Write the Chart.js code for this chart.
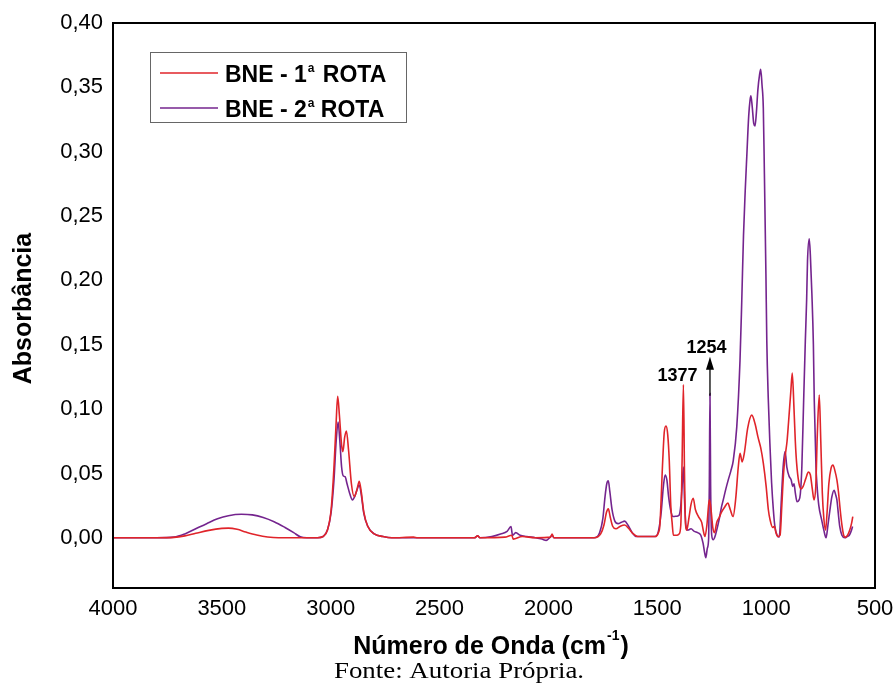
<!DOCTYPE html>
<html><head><meta charset="utf-8">
<script src="https://cdn.jsdelivr.net/npm/chart.js@4/dist/chart.umd.min.js"></script>
<style>html,body{margin:0;padding:0;background:#fff}canvas{display:block}</style>
</head><body>
<canvas id="c" width="896" height="694"></canvas>
<script>
// ---- data ----
const seriesLabels = ['BNE - 1ª ROTA', 'BNE - 2ª ROTA'];
const xTitle = 'Número de Onda (cm';
const xTitleSup = '-1';
const yTitle = 'Absorbância';
const caption = 'Fonte: Autoria Própria.';
const annotLabels = ['1377', '1254'];
const annotWn = [1380, 1258];
const annotAbs = [0.119, 0.112];

const redWn = [4000,3800,3720,3670,3620,3560,3500,3470,3430,3390,3340,3290,3240,3060,3035,3015,2998,2985,2975,2968,2960,2950,2944,2936,2928,2918,2905,2892,2880,2869,2860,2848,2830,2800,2760,2720,2620,2600,2340,2325,2315,2200,2168,2162,2120,2060,1990,1983,1975,1790,1760,1745,1733,1725,1716,1705,1690,1670,1650,1630,1610,1590,1510,1495,1488,1475,1468,1460,1452,1445,1438,1432,1426,1410,1400,1392,1386,1380,1375,1370,1365,1355,1345,1335,1325,1311,1296,1288,1281,1272,1264,1260,1252,1245,1237,1227,1215,1205,1190,1176,1165,1152,1140,1128,1120,1110,1100,1085,1066,1050,1038,1025,1013,1000,990,982,970,962,955,945,936,928,920,913,904,897,887,880,872,866,860,850,840,830,818,806,797,788,780,772,765,756,749,742,735,727,720,712,702,693,684,675,668,660,652,644,636,626,616,608,602];
const redAbs = [0,0,0.0003,0.0015,0.0035,0.0058,0.0073,0.0075,0.0066,0.0045,0.0022,0.0006,0,0,0.001,0.006,0.022,0.055,0.09,0.110,0.095,0.072,0.067,0.078,0.083,0.068,0.042,0.032,0.037,0.044,0.036,0.020,0.009,0.003,0.001,0,0.0005,0,0,0.0015,0,0.0005,0.002,-0.001,0.001,0,0.0005,0.003,0,0,0.003,0.010,0.020,0.0225,0.016,0.009,0.007,0.009,0.010,0.007,0.003,0.001,0.001,0.004,0.010,0.060,0.082,0.0868,0.080,0.060,0.025,0.012,0.002,0.002,0.003,0.010,0.060,0.119,0.050,0.010,0.006,0.015,0.026,0.0307,0.022,0.0165,0.012,0.005,0.001,0.010,0.026,0.0295,0.020,0.008,0.004,0.012,0.016,0.020,0.024,0.027,0.022,0.0165,0.030,0.055,0.0657,0.059,0.066,0.085,0.0953,0.088,0.0786,0.070,0.058,0.040,0.022,0.014,0.008,0.009,0.004,0.001,0.002,0.025,0.050,0.063,0.075,0.090,0.113,0.128,0.100,0.075,0.058,0.043,0.038,0.040,0.046,0.051,0.049,0.038,0.0295,0.040,0.080,0.111,0.075,0.035,0.015,0.006,0.020,0.042,0.054,0.0566,0.052,0.045,0.036,0.022,0.010,0.002,0.0005,0.002,0.006,0.011,0.0165];

const purpleWn = [4000,3800,3720,3670,3620,3570,3520,3470,3410,3360,3310,3260,3210,3170,3140,3110,3060,3035,3015,2998,2985,2975,2966,2958,2950,2942,2934,2925,2912,2900,2890,2880,2869,2860,2848,2830,2800,2760,2720,2340,2325,2315,2260,2220,2190,2172,2165,2150,2130,2100,2060,2030,2010,1995,1983,1975,1790,1765,1750,1740,1732,1725,1718,1708,1695,1680,1665,1650,1635,1615,1595,1510,1495,1482,1472,1464,1456,1448,1439,1428,1410,1400,1392,1386,1380,1375,1369,1360,1345,1330,1315,1300,1290,1282,1277,1270,1264,1261,1258,1255,1250,1243,1235,1227,1215,1205,1197,1185,1174,1162,1151,1135,1120,1112,1104,1096,1089,1080,1074,1070,1064,1057,1051,1045,1038,1030,1025,1019,1013,1008,1001,997,990,982,975,967,960,950,940,930,922,913,905,895,885,878,872,866,858,850,843,836,828,820,814,810,802,797,790,783,779,771,766,758,745,735,725,716,707,698,688,680,675,668,662,652,638,628,618,610,603];
const purpleAbs = [0,0,0.0005,0.003,0.007,0.011,0.0148,0.0172,0.0183,0.0178,0.0158,0.0125,0.008,0.004,0.0008,0,0,0.001,0.006,0.020,0.045,0.075,0.090,0.075,0.055,0.048,0.0475,0.042,0.034,0.0295,0.032,0.037,0.041,0.034,0.019,0.009,0.003,0.001,0,0,0.0015,0,0.001,0.003,0.005,0.0088,0.002,0.004,0.002,0.001,0,-0.001,-0.002,0,0.002,0,0,0.004,0.015,0.032,0.042,0.0442,0.036,0.022,0.013,0.011,0.012,0.013,0.010,0.004,0.001,0.001,0.005,0.020,0.040,0.0488,0.045,0.032,0.022,0.0165,0.0168,0.0175,0.025,0.040,0.055,0.030,0.010,0.006,0.007,0.005,0.004,0.002,-0.004,-0.012,-0.0155,-0.008,0,0.04,0.112,0.04,0.002,-0.0015,0.001,0.006,0.015,0.024,0.0295,0.038,0.045,0.052,0.060,0.086,0.138,0.184,0.235,0.270,0.296,0.328,0.340,0.3434,0.335,0.322,0.320,0.330,0.348,0.360,0.364,0.352,0.334,0.283,0.205,0.153,0.107,0.070,0.043,0.022,0.009,0.002,0.0005,0.030,0.055,0.067,0.055,0.048,0.045,0.040,0.042,0.035,0.028,0.029,0.034,0.055,0.105,0.153,0.185,0.215,0.2323,0.220,0.190,0.150,0.107,0.055,0.040,0.025,0.014,0.006,0,0.010,0.0217,0.032,0.037,0.033,0.0295,0.018,0.0088,0.002,0,0.001,0.002,0.005,0.0088];

const xTicksStep = 500;
const yTicksStep = 0.05;

// ---- style ----
const RED = '#e0242a';
const PURPLE = '#74248e';
const SANS = '"Liberation Sans", Arial, sans-serif';
const SERIF = '"Liberation Serif", "Times New Roman", serif';

const overlay = {
  id: 'overlay',
  afterDatasetsDraw(chart) {
    const {ctx, chartArea: a, scales: {x, y}} = chart;
    ctx.save();
    // frame
    ctx.strokeStyle = '#000';
    ctx.lineWidth = 2;
    ctx.strokeRect(a.left, a.top, a.right - a.left, a.bottom - a.top);

    // annotations
    ctx.fillStyle = '#000';
    ctx.font = 'bold 18px ' + SANS;
    ctx.textAlign = 'center';
    ctx.textBaseline = 'middle';
    ctx.fillText(annotLabels[0], x.getPixelForValue(annotWn[0]) - 6, y.getPixelForValue(annotAbs[0]) - 9);
    const ax = x.getPixelForValue(annotWn[1]);
    const ay = y.getPixelForValue(annotAbs[1]);
    ctx.fillText(annotLabels[1], ax - 3.5, ay - 46);
    ctx.strokeStyle = '#000';
    ctx.lineWidth = 1.3;
    ctx.beginPath();
    ctx.moveTo(ax, ay + 2);
    ctx.lineTo(ax, ay - 26);
    ctx.stroke();
    ctx.beginPath();
    ctx.moveTo(ax, ay - 37);
    ctx.lineTo(ax - 4, ay - 24);
    ctx.lineTo(ax + 4, ay - 24);
    ctx.closePath();
    ctx.fill();

    // legend
    ctx.fillStyle = '#fff';
    ctx.fillRect(150.5, 52.5, 256, 70);
    ctx.strokeStyle = '#666';
    ctx.lineWidth = 1;
    ctx.strokeRect(150.5, 52.5, 256, 70);
    const colors = [RED, PURPLE];
    const rowsY = [81.5, 116.5];
    seriesLabels.forEach((lab, i) => {
      const by = rowsY[i];
      ctx.strokeStyle = colors[i];
      ctx.lineWidth = 1.5;
      ctx.beginPath();
      ctx.moveTo(160, by - 8.5);
      ctx.lineTo(218, by - 8.5);
      ctx.stroke();
      const parts = lab.split('ª');
      ctx.fillStyle = '#000';
      ctx.textAlign = 'left';
      ctx.textBaseline = 'alphabetic';
      ctx.font = 'bold 23px ' + SANS;
      let tx = 225;
      ctx.fillText(parts[0], tx, by);
      tx += ctx.measureText(parts[0]).width + 1;
      ctx.font = 'bold 12px ' + SANS;
      ctx.fillText('a', tx, by - 9.5);
      tx += ctx.measureText('a').width + (i === 0 ? 2 : 0);
      ctx.font = 'bold 23px ' + SANS;
      ctx.fillText(parts[1], tx, by);
    });

    // x title with superscript
    ctx.font = 'bold 25px ' + SANS;
    const w1 = ctx.measureText(xTitle).width;
    ctx.font = 'bold 14px ' + SANS;
    const w2 = ctx.measureText(xTitleSup).width;
    ctx.font = 'bold 25px ' + SANS;
    const w3 = ctx.measureText(')').width;
    const total = w1 + w2 + 2 + w3;
    let sx = (a.left + a.right) / 2 - total / 2 - 3;
    ctx.textAlign = 'left';
    ctx.textBaseline = 'alphabetic';
    ctx.fillText(xTitle, sx, 654);
    ctx.font = 'bold 14px ' + SANS;
    ctx.fillText(xTitleSup, sx + w1 + 1, 640);
    ctx.font = 'bold 25px ' + SANS;
    ctx.fillText(')', sx + w1 + w2 + 2, 654);

    // y title
    ctx.save();
    ctx.translate(24, (a.top + a.bottom) / 2 + 3);
    ctx.rotate(-Math.PI / 2);
    ctx.font = 'bold 25px ' + SANS;
    ctx.textAlign = 'center';
    ctx.textBaseline = 'middle';
    ctx.fillText(yTitle, 0, 0);
    ctx.restore();

    // caption
    ctx.save();
    ctx.translate(459, 678);
    ctx.scale(1.12, 1);
    ctx.font = '24px ' + SERIF;
    ctx.textAlign = 'center';
    ctx.textBaseline = 'alphabetic';
    ctx.fillText(caption, 0, 0);
    ctx.restore();

    ctx.restore();
  }
};

const fmtY = v => (v < -1e-6 ? '' : v.toFixed(2).replace('.', ','));

new Chart(document.getElementById('c'), {
  type: 'line',
  data: {
    datasets: [
      {label: seriesLabels[0], data: redWn.map((w, i) => ({x: w, y: redAbs[i]})),
       borderColor: RED, borderWidth: 1.6, pointRadius: 0, fill: false, cubicInterpolationMode: 'monotone'},
      {label: seriesLabels[1], data: purpleWn.map((w, i) => ({x: w, y: purpleAbs[i]})),
       borderColor: PURPLE, borderWidth: 1.6, pointRadius: 0, fill: false, cubicInterpolationMode: 'monotone'}
    ]
  },
  options: {
    responsive: false,
    animation: false,
    devicePixelRatio: 1,
    layout: {autoPadding: false, padding: {left: 0, right: 21, top: 23, bottom: 0}},
    plugins: {legend: {display: false}, tooltip: {enabled: false}},
    scales: {
      x: {
        type: 'linear', reverse: true, min: 500, max: 4000,
        grid: {display: false, drawTicks: false}, border: {display: false},
        ticks: {stepSize: xTicksStep, padding: 8, color: '#000', autoSkip: false, maxRotation: 0,
                font: {family: SANS, size: 22}, callback: v => String(v)},
        afterFit(s) { s.height = 106; s.paddingLeft = 0; s.paddingRight = 0; }
      },
      y: {
        type: 'linear', min: -0.039, max: 0.40,
        grid: {display: false, drawTicks: false}, border: {display: false},
        ticks: {stepSize: yTicksStep, padding: 10, color: '#000', autoSkip: false,
                font: {family: SANS, size: 22}, callback: fmtY},
        afterFit(s) { s.width = 113; s.paddingTop = 0; s.paddingBottom = 0; }
      }
    }
  },
  plugins: [overlay]
});
</script>
</body></html>
